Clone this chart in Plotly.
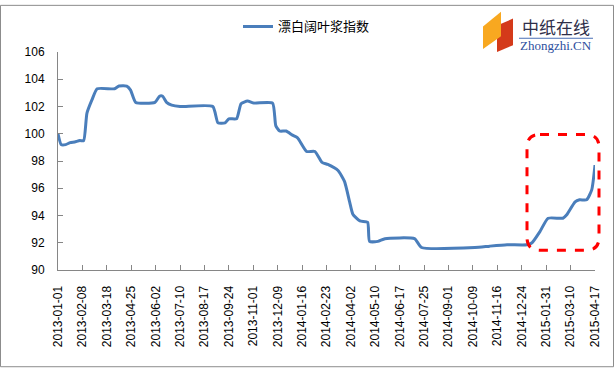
import plotly.graph_objects as go

# Data
dates = [
    "2013-01-01", "2013-01-06", "2013-01-13", "2013-01-20", "2013-01-27", "2013-02-04",
    "2013-02-10", "2013-02-15", "2013-02-23", "2013-03-03", "2013-03-30", "2013-04-06",
    "2013-04-18", "2013-04-24", "2013-05-02", "2013-06-01", "2013-06-08", "2013-06-13",
    "2013-06-19", "2013-06-27", "2013-07-10", "2013-08-30", "2013-09-07", "2013-09-18",
    "2013-09-24", "2013-10-06", "2013-10-13", "2013-10-23", "2013-11-02", "2013-12-01",
    "2013-12-06", "2013-12-12", "2013-12-22", "2014-01-01", "2014-01-09", "2014-01-23",
    "2014-02-05", "2014-02-16", "2014-02-25", "2014-03-13", "2014-03-23", "2014-03-31",
    "2014-04-05", "2014-04-16", "2014-04-28", "2014-05-01", "2014-05-14", "2014-05-25",
    "2014-07-10", "2014-07-21", "2014-10-12", "2014-11-04", "2014-12-01", "2015-01-01",
    "2015-01-09", "2015-01-21", "2015-02-03", "2015-02-26", "2015-03-04", "2015-03-17",
    "2015-03-24", "2015-04-04", "2015-04-12", "2015-04-17",
]
index_values = [
    100.0, 99.2, 99.2, 99.35, 99.4, 99.5,
    99.5, 101.5, 102.5, 103.3, 103.3, 103.5,
    103.5, 103.2, 102.3, 102.3, 102.75, 102.75,
    102.3, 102.1, 102.0, 102.0, 100.8, 100.8,
    101.1, 101.1, 102.2, 102.4, 102.25, 102.25,
    100.6, 100.2, 100.2, 99.9, 99.7, 98.7,
    98.7, 97.9, 97.75, 97.3, 96.5, 95.0,
    94.1, 93.6, 93.5, 92.1, 92.1, 92.3,
    92.3, 91.65, 91.65, 91.75, 91.85, 91.85,
    92.0, 92.8, 93.8, 93.8, 94.05, 95.0,
    95.15, 95.15, 95.9, 97.7,
]
tick_labels = [
    "2013-01-01", "2013-02-08", "2013-03-18", "2013-04-25", "2013-06-02", "2013-07-10",
    "2013-08-17", "2013-09-24", "2013-11-01", "2013-12-09", "2014-01-16", "2014-02-23",
    "2014-04-02", "2014-05-10", "2014-06-17", "2014-07-25", "2014-09-01", "2014-10-09",
    "2014-11-16", "2014-12-24", "2015-01-31", "2015-03-10", "2015-04-17",
]
series_name = "漂白阔叶浆指数"

W, H = 614, 369
L, R, T, B = 58, 19, 48, 99
PW, PH = W - L - R, H - T - B


def px(x):
    return (x - L) / PW


def py(y):
    return (H - B - y) / PH


fig = go.Figure()
fig.add_trace(go.Scatter(
    x=dates, y=index_values, mode="lines", name=series_name,
    line=dict(color="#4a7ebb", width=3, shape="spline", smoothing=0.5),
))

font_family = "Liberation Sans, Arial, sans-serif"

# Red dashed rounded rectangle highlight
x0, x1, y0, y1, r = px(527), px(599), py(132), py(250), 13
rx, ry = r / PW, r / PH
path = (f"M {x0+rx},{y0} L {x1-rx},{y0} Q {x1},{y0} {x1},{y0-ry} "
        f"L {x1},{y1+ry} Q {x1},{y1} {x1-rx},{y1} L {x0+rx},{y1} "
        f"Q {x0},{y1} {x0},{y1+ry} L {x0},{y0-ry} Q {x0},{y0} {x0+rx},{y0} Z")

shapes = [
    dict(type="path", xref="paper", yref="paper", path=path,
         line=dict(color="#ff0000", width=3, dash="dash")),
    # outer border
    dict(type="rect", xref="paper", yref="paper",
         x0=px(0.5), x1=px(W - 0.5), y0=py(0.5), y1=py(H - 0.5),
         line=dict(color="#8c8c8c", width=1), layer="below"),
]


def poly(points, color):
    p = "M " + " L ".join(f"{px(a)},{py(b)}" for a, b in points) + " Z"
    return dict(type="path", xref="paper", yref="paper", path=p,
                fillcolor=color, line=dict(width=0))


# logo shapes
shapes.append(poly([(497, 21), (513, 14), (513, 41), (497, 48)], "#d43a1a"))
shapes.append(poly([(483, 22), (501, 7), (501, 32), (483, 45)], "#f8a820"))
shapes.append(dict(type="line", xref="paper", yref="paper",
                   x0=px(519), x1=px(593), y0=py(34), y1=py(34),
                   line=dict(color="#4a6fb5", width=1)))

annotations = [
    dict(x=px(556), y=py(22), xref="paper", yref="paper", text="中纸在线",
         showarrow=False, font=dict(family="Noto Sans CJK SC", size=17, color="#2e2e48"),
         xanchor="center", yanchor="middle"),
    dict(x=px(556), y=py(41), xref="paper", yref="paper", text="Zhongzhi.CN",
         showarrow=False, font=dict(family="Liberation Serif, serif", size=13, color="#2d4f9e"),
         xanchor="center", yanchor="middle"),
]

fig.update_layout(
    width=W, height=H,
    margin=dict(l=L, r=R, t=T, b=B),
    paper_bgcolor="white", plot_bgcolor="white",
    font=dict(family=font_family, size=12, color="#000000"),
    showlegend=True,
    legend=dict(orientation="h", x=px(238), y=py(22), xanchor="left", yanchor="middle",
                font=dict(family="Noto Sans CJK SC", size=13, color="#000000"),
                bgcolor="rgba(0,0,0,0)"),
    shapes=shapes,
    annotations=annotations,
    xaxis=dict(
        type="date", range=["2013-01-01", "2015-04-17"],
        tickvals=tick_labels, ticktext=tick_labels, tickangle=-90,
        ticks="inside", ticklen=5, tickcolor="#868686",
        showline=True, linecolor="#868686", linewidth=1,
        showgrid=False, zeroline=False,
        tickfont=dict(size=12, color="#000000"),
        ticklabelstandoff=10,
    ),
    yaxis=dict(
        range=[90, 106], dtick=2, tick0=90,
        ticks="inside", ticklen=5, tickcolor="#868686",
        showline=True, linecolor="#868686", linewidth=1,
        showgrid=False, zeroline=False,
        tickfont=dict(size=12, color="#000000"),
        ticklabelstandoff=10,
    ),
)

fig.write_html("out.html")
